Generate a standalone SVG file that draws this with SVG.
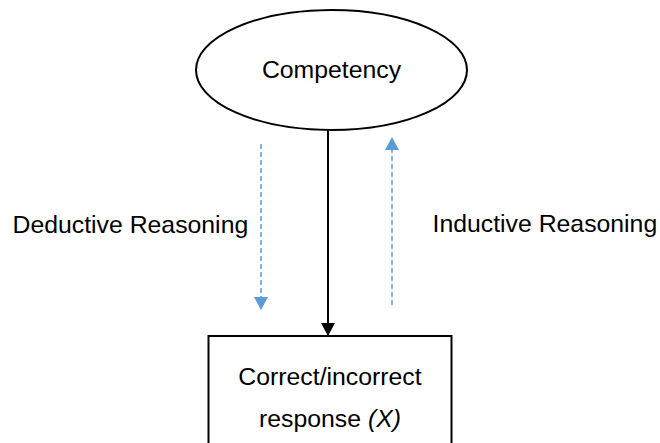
<svg xmlns="http://www.w3.org/2000/svg" width="660" height="443" viewBox="0 0 660 443">
  <style>
    .lbl { font-family: "Liberation Sans", Arial, sans-serif; font-size: 24.8px; fill: #000; }
    .shape { fill: #fff; stroke: #000; stroke-width: 2; }
    .solid { stroke: #000; stroke-width: 2; fill: none; }
    .dash { stroke: #5B9BD5; stroke-width: 1.5; stroke-dasharray: 5 3; fill: none; }
  </style>
  <defs>
    <marker id="blackHead" markerUnits="userSpaceOnUse" markerWidth="14" markerHeight="14" refX="13" refY="7" orient="auto">
      <path d="M0,0 L13,7 L0,14 Z" fill="#000"/>
    </marker>
    <marker id="blueHead" markerUnits="userSpaceOnUse" markerWidth="14" markerHeight="14" refX="13" refY="7" orient="auto">
      <path d="M0,0 L13,7 L0,14 Z" fill="#5B9BD5"/>
    </marker>
  </defs>

  <g id="connectors">
    <line class="solid" x1="328" y1="130" x2="328" y2="336" marker-end="url(#blackHead)"/>
    <line class="dash" x1="261" y1="144" x2="261" y2="310" marker-end="url(#blueHead)"/>
    <line class="dash" x1="392" y1="305" x2="392" y2="137" marker-end="url(#blueHead)"/>
  </g>

  <g id="competency">
    <ellipse class="shape" cx="331.5" cy="70" rx="135.5" ry="60"/>
    <text class="lbl" x="331.5" y="78" text-anchor="middle">Competency</text>
  </g>

  <g id="response">
    <rect class="shape" x="208.5" y="336" width="243" height="120"/>
    <text class="lbl" x="330" y="385" text-anchor="middle">Correct/incorrect</text>
    <text class="lbl" x="330" y="427" text-anchor="middle">response <tspan font-style="italic">(X)</tspan></text>
  </g>

  <g id="deductive-label">
    <text class="lbl" x="12.5" y="233">Deductive Reasoning</text>
  </g>

  <g id="inductive-label">
    <text class="lbl" x="432.5" y="232">Inductive Reasoning</text>
  </g>
</svg>
